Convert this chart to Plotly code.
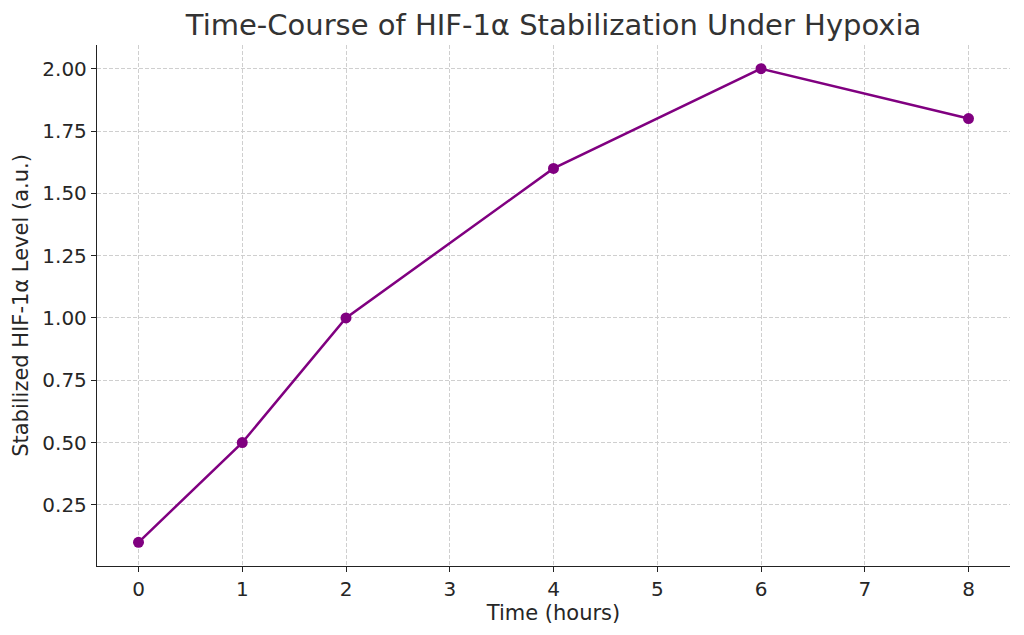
import plotly.graph_objects as go

# time points (hours) and stabilized HIF-1a level (a.u.)
hours = [0, 1, 2, 4, 6, 8]
hif_level = [0.1, 0.5, 1.0, 1.6, 2.0, 1.8]

x_ticks = [0, 1, 2, 3, 4, 5, 6, 7, 8]
y_ticks = [0.25, 0.5, 0.75, 1.0, 1.25, 1.5, 1.75, 2.0]

fig = go.Figure()

fig.add_trace(
    go.Scatter(
        x=hours,
        y=hif_level,
        mode="lines+markers",
        line=dict(color="purple", width=2.5),
        marker=dict(color="purple", size=11),
        showlegend=False,
    )
)

axis_style = dict(
    showgrid=True,
    gridcolor="#cfcfcf",
    griddash="4px,2px",
    gridwidth=1,
    showline=True,
    linecolor="#222222",
    linewidth=1.3,
    ticks="outside",
    ticklen=5,
    tickcolor="#222222",
    zeroline=False,
    tickfont=dict(size=20, color="#262626"),
    title_font=dict(size=21, color="#262626"),
)

fig.update_xaxes(
    range=[-0.4, 8.4],
    tickvals=x_ticks,
    title_text="Time (hours)",
    title_standoff=2,
    **axis_style,
)
fig.update_yaxes(
    range=[0.005, 2.095],
    tickvals=y_ticks,
    tickformat=".2f",
    title_text="Stabilized HIF-1α Level (a.u.)",
    title_standoff=7,
    **axis_style,
)

fig.update_layout(
    title=dict(
        text="Time-Course of HIF-1α Stabilization Under Hypoxia",
        x=0.537,
        xanchor="center",
        y=0.973,
        yanchor="middle",
        font=dict(size=29, color="#333333"),
    ),
    font=dict(family="DejaVu Sans"),
    width=1016,
    height=627,
    margin=dict(l=89, r=14, t=37, b=69),
    plot_bgcolor="white",
    paper_bgcolor="white",
)

fig.write_html("out.html")
